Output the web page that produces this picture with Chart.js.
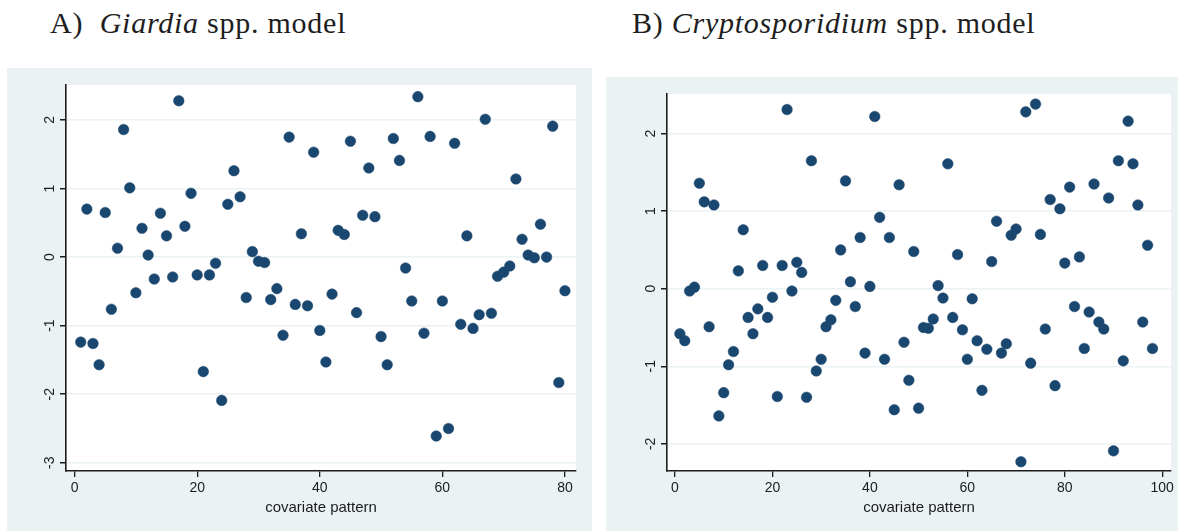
<!DOCTYPE html>
<html>
<head>
<meta charset="utf-8">
<script src="https://cdn.jsdelivr.net/npm/chart.js@4.4.0/dist/chart.umd.min.js"></script>
<style>
  body { margin: 0; background: #fff; width: 1178px; height: 531px; position: relative; overflow: hidden; }
  .ttl { position: absolute; top: 8px; font-family: "Liberation Serif", serif; font-size: 30px; line-height: 30px; letter-spacing: 0.75px; color: #1e1e1e; white-space: pre; }
  .panel { position: absolute; background: #eaf2f3; }
</style>
</head>
<body>
<div class="ttl" style="left:50px">A)  <i>Giardia</i> spp. model</div>
<div class="ttl" style="left:632px">B) <i>Cryptosporidium</i> spp. model</div>
<div class="panel" style="left:7px;top:68px;width:585px;height:463px"><canvas id="chartA" width="585" height="463"></canvas></div>
<div class="panel" style="left:606px;top:77px;width:572px;height:454px"><canvas id="chartB" width="572" height="454"></canvas></div>
<script>
// residuos por patron de covariables (patron 1..N)
const giardiaY = [
  -1.24, 0.70, -1.26, -1.57, 0.65, -0.76, 0.13, 1.86, 1.01, -0.52,
  0.42, 0.03, -0.32, 0.64, 0.31, -0.29, 2.28, 0.45, 0.93, -0.26,
  -1.67, -0.26, -0.09, -2.09, 0.77, 1.26, 0.88, -0.59, 0.08, -0.06,
  -0.08, -0.62, -0.46, -1.14, 1.75, -0.69, 0.34, -0.71, 1.53, -1.07,
  -1.53, -0.54, 0.39, 0.33, 1.69, -0.81, 0.61, 1.30, 0.59, -1.16,
  -1.57, 1.73, 1.41, -0.16, -0.64, 2.34, -1.11, 1.76, -2.61, -0.64,
  -2.50, 1.66, -0.98, 0.31, -1.04, -0.84, 2.01, -0.82, -0.28, -0.22,
  -0.13, 1.14, 0.26, 0.03, -0.01, 0.48, 0.00, 1.91, -1.83, -0.49
];
const cryptoY = [
  -0.58, -0.67, -0.03, 0.02, 1.36, 1.12, -0.49, 1.08, -1.64, -1.34,
  -0.98, -0.81, 0.23, 0.76, -0.37, -0.58, -0.26, 0.30, -0.37, -0.11,
  -1.39, 0.30, 2.31, -0.03, 0.34, 0.21, -1.40, 1.65, -1.06, -0.91,
  -0.49, -0.40, -0.15, 0.50, 1.39, 0.09, -0.23, 0.66, -0.83, 0.03,
  2.22, 0.92, -0.91, 0.66, -1.56, 1.34, -0.69, -1.18, 0.48, -1.54,
  -0.50, -0.51, -0.39, 0.04, -0.12, 1.61, -0.37, 0.44, -0.53, -0.91,
  -0.13, -0.67, -1.31, -0.78, 0.35, 0.87, -0.83, -0.71, 0.69, 0.77,
  -2.23, 2.28, -0.96, 2.38, 0.70, -0.52, 1.15, -1.25, 1.03, 0.33,
  1.31, -0.23, 0.41, -0.77, -0.30, 1.35, -0.43, -0.52, 1.17, -2.09,
  1.65, -0.93, 2.16, 1.61, 1.08, -0.43, 0.56, -0.77
];
const xTicksA = [0, 20, 40, 60, 80];
const yTicksA = [-3, -2, -1, 0, 1, 2];
const xTicksB = [0, 20, 40, 60, 80, 100];
const yTicksB = [-2, -1, 0, 1, 2];
const xTitle = "covariate pattern";

const oscuro = "#1c1c1c";
const fuente = '"Liberation Sans", Arial, sans-serif';

// fondo blanco del area de la grafica
const fondoBlanco = {
  id: "fondoBlanco",
  beforeDraw(chart) {
    const { ctx, chartArea: a } = chart;
    ctx.save();
    ctx.fillStyle = "#ffffff";
    ctx.fillRect(a.left, a.top, a.right - a.left, a.bottom - a.top);
    ctx.restore();
  }
};

// etiquetas del eje y giradas como en stata
const etiquetasY = {
  id: "etiquetasY",
  afterDraw(chart) {
    const s = chart.scales.y;
    const ctx = chart.ctx;
    ctx.save();
    ctx.font = "14px " + fuente;
    ctx.fillStyle = oscuro;
    ctx.textAlign = "center";
    ctx.textBaseline = "middle";
    s.ticks.forEach((t) => {
      ctx.save();
      ctx.translate(s.right - 16, s.getPixelForValue(t.value));
      ctx.rotate(-Math.PI / 2);
      ctx.fillText(String(t.value), 0, 0);
      ctx.restore();
    });
    ctx.restore();
  }
};

function crearGrafica(id, valores, xTicks, yTicks, lim, anchoY, padDer, padTitulo) {
  const puntos = valores.map((v, i) => ({ x: i + 1, y: v }));
  return new Chart(document.getElementById(id), {
    type: "scatter",
    data: {
      datasets: [{
        data: puntos,
        pointRadius: 5.3,
        pointBackgroundColor: "#1a476f",
        pointBorderColor: "#1a476f",
        pointBorderWidth: 0.5
      }]
    },
    options: {
      responsive: false,
      animation: false,
      layout: { padding: { top: 17, right: padDer, left: 0, bottom: 0 } },
      plugins: { legend: { display: false }, tooltip: { enabled: false } },
      scales: {
        x: {
          type: "linear",
          min: lim[0], max: lim[1],
          afterBuildTicks: (s) => { s.ticks = xTicks.map((v) => ({ value: v })); },
          afterFit: (s) => { s.height = 60; },
          grid: { drawOnChartArea: false, color: oscuro, tickLength: 6, lineWidth: 1.3 },
          border: { color: oscuro, width: 1.6 },
          ticks: { font: { family: fuente, size: 14 }, color: oscuro, padding: 3, maxRotation: 0 },
          title: { display: true, text: xTitle, font: { family: fuente, size: 15 }, color: oscuro, padding: { top: 0, bottom: padTitulo } }
        },
        y: {
          type: "linear",
          min: lim[2], max: lim[3],
          afterBuildTicks: (s) => { s.ticks = yTicks.map((v) => ({ value: v })); },
          afterFit: (s) => { s.width = anchoY; },
          grid: { color: "#eaf2f3", lineWidth: 1.5, tickColor: oscuro, tickLength: 6 },
          border: { color: oscuro, width: 1.6 },
          ticks: { display: false }
        }
      }
    },
    plugins: [fondoBlanco, etiquetasY]
  });
}

crearGrafica("chartA", giardiaY, xTicksA, yTicksA, [-1.4, 81.8, -3.12, 2.51], 59, 16, 14);
crearGrafica("chartB", cryptoY, xTicksB, yTicksB, [-1.64, 101.8, -2.35, 2.51], 61, 7, 14);
</script>
</body>
</html>
